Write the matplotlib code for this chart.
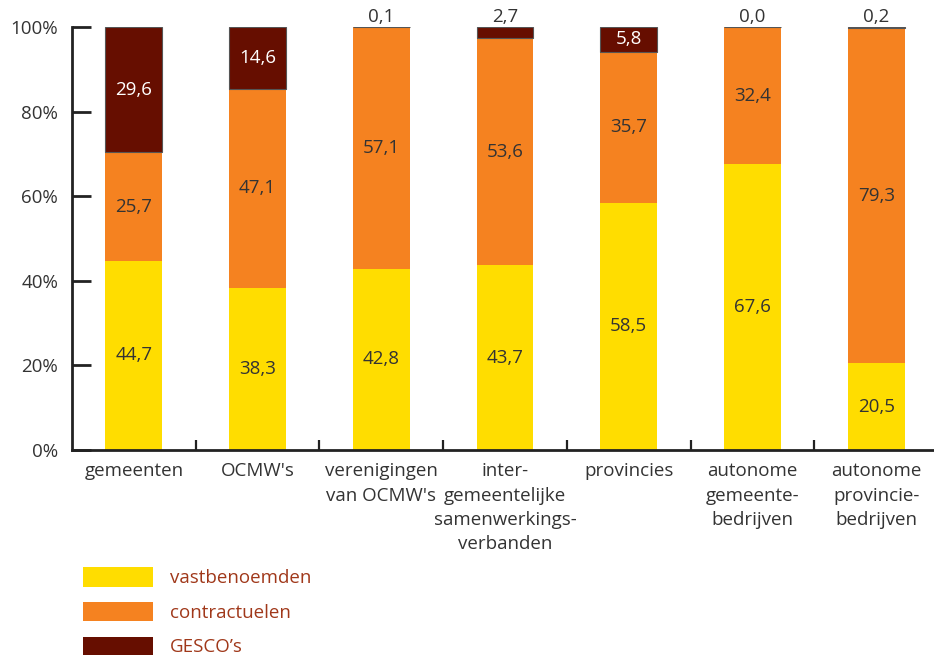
import matplotlib
matplotlib.use("Agg")
from matplotlib import pyplot as plt
from matplotlib.patches import Patch
import numpy as np

categories = [
    "gemeenten",
    "OCMW's",
    "verenigingen\nvan OCMW's",
    "inter-\ngemeentelijke\nsamenwerkings-\nverbanden",
    "provincies",
    "autonome\ngemeente-\nbedrijven",
    "autonome\nprovincie-\nbedrijven",
]
vastbenoemden = [44.7, 38.3, 42.8, 43.7, 58.5, 67.6, 20.5]
contractuelen = [25.7, 47.1, 57.1, 53.6, 35.7, 32.4, 79.3]
gesco = [29.6, 14.6, 0.1, 2.7, 5.8, 0.0, 0.2]
series_names = ["vastbenoemden", "contractuelen", "GESCO\u2019s"]

YELLOW = "#FFDD00"
ORANGE = "#F58220"
DARKRED = "#660E00"
TEXT = "#333333"
LEGEND_TEXT = "#A0381A"

plt.rcParams["font.family"] = ["Open Sans", "DejaVu Sans"]
plt.rcParams["font.size"] = 13.5

fig = plt.figure(figsize=(9.34, 6.55), dpi=100)
ax = fig.add_axes([72 / 934, 205 / 655, 866 / 934, 423 / 655])

x = np.arange(len(categories))
w = 0.46
vast = np.array(vastbenoemden)
contr = np.array(contractuelen)
ges = np.array(gesco)

ax.bar(x, vast, w, color=YELLOW, zorder=2)
ax.bar(x, contr, w, bottom=vast, color=ORANGE, zorder=2)
ax.bar(x, ges, w, bottom=vast + contr, color=DARKRED,
       edgecolor="#555555", linewidth=0.8, zorder=2)


def fmt(v):
    return f"{v:.1f}".replace(".", ",")


for i in x:
    ax.text(i, vast[i] / 2, fmt(vast[i]), ha="center", va="center", color=TEXT)
    ax.text(i, vast[i] + contr[i] / 2, fmt(contr[i]), ha="center", va="center", color=TEXT)
    top = vast[i] + contr[i]
    if ges[i] >= 5:
        ax.text(i, top + ges[i] / 2, fmt(ges[i]), ha="center", va="center", color="white")
    else:
        ax.text(i, top + ges[i] + 0.2, fmt(ges[i]), ha="center", va="bottom", color=TEXT)

ax.set_xlim(-0.5, 6.5)
ax.set_ylim(0, 100)

ax.set_yticks([0, 20, 40, 60, 80, 100])
ax.set_yticklabels([f"{v}%" for v in range(0, 101, 20)], color=TEXT)
ax.tick_params(axis="y", direction="in", length=14, width=2, color="#222222", pad=10)

ax.set_xticks(x)
ax.set_xticklabels(categories, color=TEXT, linespacing=1.45)
ax.set_xticks(x[:-1] + 0.5, minor=True)
ax.tick_params(axis="x", which="major", length=0, pad=9)
ax.tick_params(axis="x", which="minor", direction="in", length=7, width=1.6, color="#222222")

for side in ["top", "right"]:
    ax.spines[side].set_visible(False)
for side in ["left", "bottom"]:
    ax.spines[side].set_linewidth(2)
    ax.spines[side].set_color("#222222")

handles = [
    Patch(facecolor=YELLOW),
    Patch(facecolor=ORANGE),
    Patch(facecolor=DARKRED),
]
leg = fig.legend(
    handles, series_names,
    loc="upper left", bbox_to_anchor=(74 / 934, 97 / 655),
    frameon=False, handlelength=3.7, handleheight=1.2,
    handletextpad=0.9, labelspacing=0.78, borderpad=0,
)
for t in leg.get_texts():
    t.set_color(LEGEND_TEXT)

fig.savefig("out.png", dpi=100)
